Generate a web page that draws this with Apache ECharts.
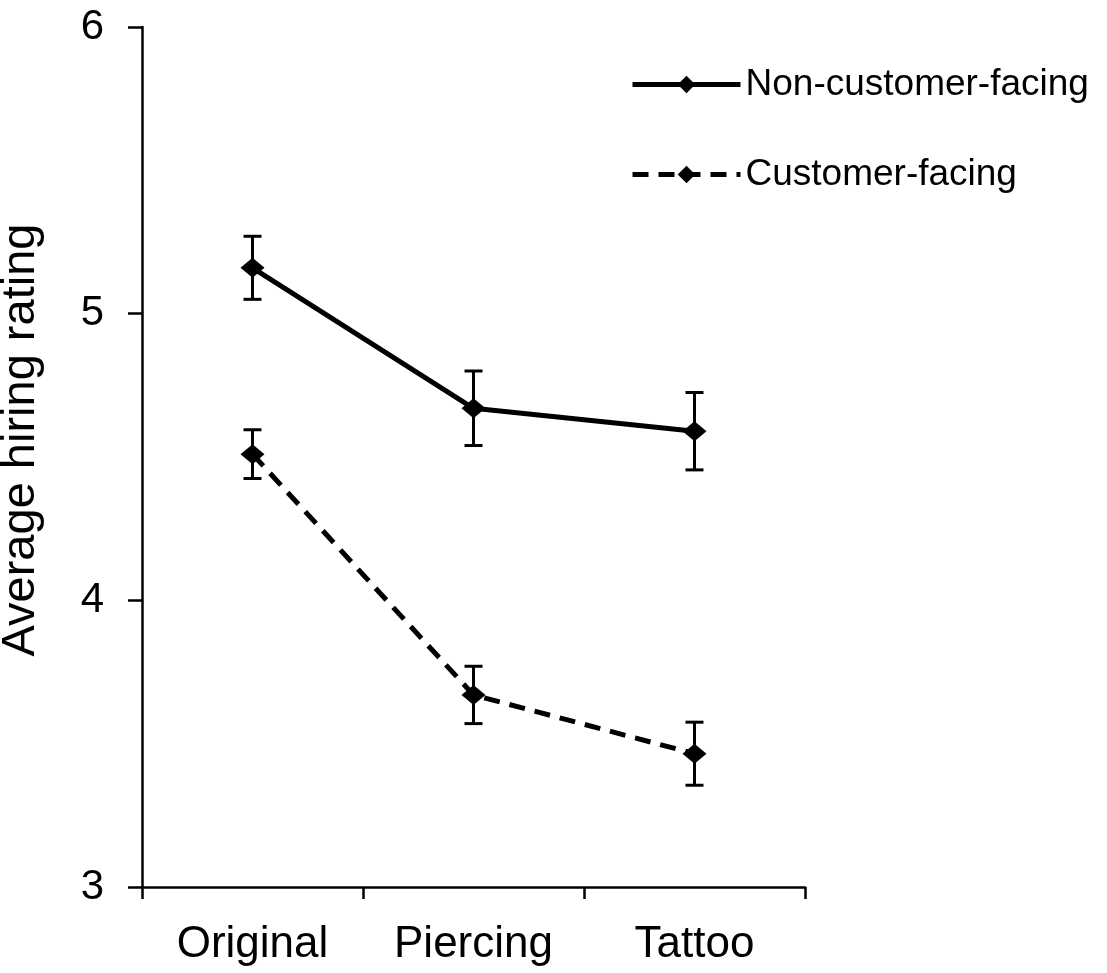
<!DOCTYPE html>
<html>
<head>
<meta charset="utf-8">
<script src="https://cdn.jsdelivr.net/npm/echarts@6/dist/echarts.min.js"></script>
<style>
html,body{margin:0;padding:0;background:#fff;}
#main{width:1107px;height:973px;}
</style>
</head>
<body>
<div id="main"></div>
<script>
const categories = ['Original', 'Piercing', 'Tattoo'];
const seriesNames = ['Non-customer-facing', 'Customer-facing'];
const nonCustomerMeans = [5.16, 4.67, 4.59];
const nonCustomerErr = [0.11, 0.13, 0.135];
const customerMeans = [4.51, 3.67, 3.465];
const customerErr = [0.085, 0.10, 0.11];
const yTicks = [3, 4, 5, 6];

const FONT = '"Liberation Sans", Arial, sans-serif';

function errData(means, errs) {
  return means.map((m, i) => [i, m - errs[i], m + errs[i]]);
}

function errRender(params, api) {
  const x = api.value(0);
  const lo = api.coord([x, api.value(1)]);
  const hi = api.coord([x, api.value(2)]);
  const cap = 9;
  const style = { stroke: '#000', lineWidth: 3 };
  return {
    type: 'group',
    children: [
      { type: 'line', shape: { x1: lo[0], y1: lo[1], x2: hi[0], y2: hi[1] }, style },
      { type: 'line', shape: { x1: lo[0] - cap, y1: lo[1], x2: lo[0] + cap, y2: lo[1] }, style },
      { type: 'line', shape: { x1: hi[0] - cap, y1: hi[1], x2: hi[0] + cap, y2: hi[1] }, style }
    ]
  };
}

const chart = echarts.init(document.getElementById('main'), null, { renderer: 'canvas' });
chart.setOption({
  animation: false,
  backgroundColor: '#fff',
  grid: { left: 142, right: 302, top: 27, bottom: 86, containLabel: false, outerBoundsMode: 'none' },
  legend: {
    left: 625,
    top: 61,
    orient: 'vertical',
    itemWidth: 108,
    itemHeight: 22,
    itemGap: 53,
    data: seriesNames,
    lineStyle: { width: 5 },
    textStyle: { fontFamily: FONT, fontSize: 37, color: '#000' }
  },
  xAxis: {
    type: 'category',
    data: categories,
    boundaryGap: true,
    axisLine: { lineStyle: { color: '#000', width: 2.5 } },
    axisTick: { show: true, length: 12, alignWithLabel: false, lineStyle: { color: '#000', width: 2.5 } },
    axisLabel: { fontFamily: FONT, fontSize: 44, color: '#000', margin: 36 },
    splitLine: { show: false }
  },
  yAxis: {
    type: 'value',
    min: yTicks[0],
    max: yTicks[yTicks.length - 1],
    interval: 1,
    name: 'Average hiring rating',
    nameLocation: 'middle',
    nameGap: 97,
    nameTextStyle: { fontFamily: FONT, fontSize: 47, color: '#000', padding: [0, 0, 0, 34] },
    axisLine: { show: true, lineStyle: { color: '#000', width: 2.5 } },
    axisTick: { show: true, length: 14, lineStyle: { color: '#000', width: 2.5 } },
    axisLabel: { fontFamily: FONT, fontSize: 42, color: '#000', margin: 38 },
    splitLine: { show: false }
  },
  series: [
    {
      name: seriesNames[0],
      type: 'line',
      data: nonCustomerMeans,
      symbol: 'diamond',
      symbolSize: [24, 20],
      itemStyle: { color: '#000' },
      lineStyle: { color: '#000', width: 5, type: 'solid' },
      z: 3
    },
    {
      name: seriesNames[1],
      type: 'line',
      data: customerMeans,
      symbol: 'diamond',
      symbolSize: [24, 20],
      itemStyle: { color: '#000' },
      lineStyle: { color: '#000', width: 5, type: [16, 10] },
      z: 3
    },
    {
      type: 'custom',
      renderItem: errRender,
      data: errData(nonCustomerMeans, nonCustomerErr),
      encode: { x: 0, y: [1, 2] },
      z: 4,
      silent: true
    },
    {
      type: 'custom',
      renderItem: errRender,
      data: errData(customerMeans, customerErr),
      encode: { x: 0, y: [1, 2] },
      z: 4,
      silent: true
    }
  ]
});
</script>
</body>
</html>
